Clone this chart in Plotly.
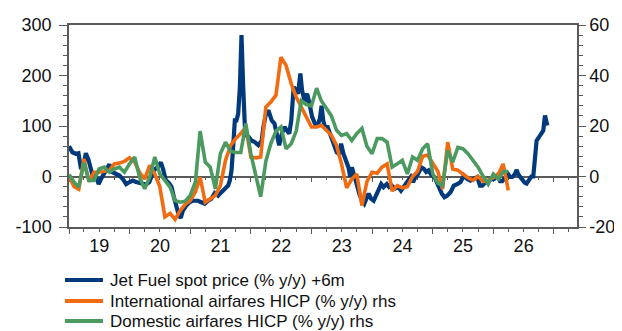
import datetime as dt
import pandas as pd
import plotly.graph_objects as go

# ---------------- data ----------------
# Jet fuel spot price (% y/y), shifted +6m, left axis (decimal-year dates)
jet_t = [2019.000, 2019.056, 2019.111, 2019.156, 2019.194, 2019.233, 2019.278, 2019.322, 2019.361, 2019.400,
         2019.444, 2019.489, 2019.528, 2019.583, 2019.639, 2019.667, 2019.711, 2019.778, 2019.833, 2019.889,
         2019.944, 2020.000, 2020.054, 2020.108, 2020.162, 2020.216, 2020.270, 2020.324, 2020.368, 2020.405,
         2020.459, 2020.514, 2020.551, 2020.595, 2020.649, 2020.692, 2020.730, 2020.773, 2020.811, 2020.843,
         2020.876, 2020.930, 2020.984, 2021.038, 2021.072, 2021.127, 2021.182, 2021.238, 2021.293, 2021.348,
         2021.403, 2021.459, 2021.514, 2021.569, 2021.624, 2021.652, 2021.680, 2021.707, 2021.735, 2021.762,
         2021.790, 2021.818, 2021.845, 2021.873, 2021.901, 2021.928, 2021.967, 2022.011, 2022.067, 2022.122,
         2022.178, 2022.206, 2022.244, 2022.289, 2022.344, 2022.389, 2022.428, 2022.467, 2022.511, 2022.556,
         2022.594, 2022.633, 2022.667, 2022.706, 2022.744, 2022.778, 2022.817, 2022.844, 2022.889, 2022.928,
         2022.967, 2023.011, 2023.056, 2023.094, 2023.139, 2023.167, 2023.194, 2023.222, 2023.267, 2023.306,
         2023.361, 2023.417, 2023.456, 2023.489, 2023.528, 2023.567, 2023.611, 2023.639, 2023.667, 2023.711,
         2023.750, 2023.789, 2023.833, 2023.872, 2023.906, 2023.944, 2023.983, 2024.027, 2024.065, 2024.108,
         2024.151, 2024.189, 2024.243, 2024.281, 2024.324, 2024.378, 2024.432, 2024.476, 2024.514, 2024.551,
         2024.595, 2024.638, 2024.676, 2024.714, 2024.757, 2024.811, 2024.854, 2024.892, 2024.930, 2024.973,
         2025.028, 2025.072, 2025.110, 2025.149, 2025.193, 2025.238, 2025.293, 2025.348, 2025.403, 2025.459,
         2025.514, 2025.569, 2025.624, 2025.680, 2025.735, 2025.779, 2025.818, 2025.856, 2025.901, 2025.956,
         2026.011, 2026.066, 2026.110, 2026.148, 2026.203, 2026.242, 2026.275, 2026.313, 2026.352, 2026.385,
         2026.407, 2026.440, 2026.478, 2026.516, 2026.549, 2026.588, 2026.626, 2026.659, 2026.681, 2026.714,
         2026.753, 2026.791, 2026.824, 2026.852, 2026.868, 2026.890]
jet_v = [60, 48, 45, 46, 18, 18, 46, 33, 15, -3,
         1, -15, -5, 5, 18, 24, 9, 5, 2, -5,
         -15, -11, -8, -11, -12, -13, -16, -11, 2, 13,
         18, 28, 15, -7, -13, -21, -41, -61, -77, -82,
         -68, -58, -51, -48, -48, -48, -51, -54, -48, -44,
         -33, -38, -31, -24, -18, -8, 12, 58, 111, 111,
         124, 177, 280, 177, 98, 81, 78, 71, 68, 62,
         71, 98, 121, 131, 111, 105, 81, 62, 85, 98,
         91, 85, 111, 177, 171, 164, 204, 171, 148, 164,
         144, 118, 105, 98, 115, 140, 111, 98, 98, 85,
         65, 48, 45, 65, 45, 32, 18, 0, 18, 0,
         -21, -34, -48, -54, -44, -34, -44, -48, -38, -24,
         -15, -21, -15, -21, -18, -24, -21, -28, -21, -15,
         -8, -1, -11, -1, 5, 18, 15, 9, 12, 4,
         -1, -15, -24, -34, -41, -38, -31, -18, -15, -11,
         2, -5, -8, -5, -1, -18, -18, -13, -10, -6,
         -5, 2, -9, -9, -1, 5, -1, -1, 4, 13,
         5, -1, -6, -12, -14, -6, 0, 0, 32, 71,
         78, 85, 91, 121, 110, 101]

# Monthly HICP series (% y/y), right axis, Jan 2019 onwards
months = pd.date_range("2019-01-01", periods=88, freq="MS")
intl_air = [0, -4, -5, 7, -2, 1.7, 1.7, 2, 2.4, 5, 5.3, 6,
            7.4, 5.7, 1.7, -1, 4.4, 1, -4, -16, -14.6, -17, -13.5, -11,
            -9.5, -6, -0.3, -10.2, -8.9, -7.5, -3.6, 6.4, 12.3, 15, 17, 19.6,
            7.7, 7.4, 7.7, 27.5, 29.5, 32.2, 47.2, 44, 36.8, 31.5, 27.5, 23.6,
            19.6, 19.6, 20.3, 18.3, 16.3, 12.3, 5, -4.5, -1, 1, -11.5, -2,
            1.7, 1.3, 3.7, 5, -5.8, -3.6, -4.5, -4, 0, 2, 8, 8.5,
            5.5, 2, -5, 13.6, 3, 2.5, 1, -0.5, -1.5, 0, -2, -1.5,
            -0.5, 1, 5, -5.5]
dom_air = [0.8, -2.3, -4.2, 5.5, -1.6, -1.6, 3, 3.7, 1.7, 3, 3.7, 1.7,
           5, 7.7, -0.3, -4.9, -0.3, 7.7, 1, -1.6, -4.2, -9.5, -10.2, -9.8,
           -7.5, -2, 18, 5.7, 3.7, -4.9, 9, 13.6, 10, 9.5, 9.5, 21,
           9, 0, -8, 6, 13, 18, 19.6, 11, 13, 18, 30, 28.5,
           28, 35, 30, 27, 24, 18.3, 16.3, 17, 14.3, 17, 19, 12,
           9, 15, 15, 13.6, 3.7, 5, 6.4, 1, 7.7, 6.4, 11, 13,
           1, -2.6, -3.6, 10.3, 5.7, 11.5, 11, 9, 6.4, 3.7, 0, -3,
           1, -1, 2, 2]

left_ticks = [-100, 0, 100, 200, 300]
left_labels = ["-100", "0", "100", "200", "300"]
right_ticks = [-20, 0, 20, 40, 60]
right_labels = ["-20", "0", "20", "40", "60"]

names = ["Jet Fuel spot price (% y/y) +6m",
         "International airfares HICP (% y/y) rhs",
         "Domestic airfares HICP (% y/y) rhs"]


def dec_to_date(t):
    y = int(t)
    start = dt.datetime(y, 1, 1)
    end = dt.datetime(y + 1, 1, 1)
    return start + (end - start) * (t - y)


jet_dates = [dec_to_date(t) for t in jet_t]

# ---------------- styling ----------------
BLUE = "#003a7c"
ORANGE = "#f26b10"
GREEN = "#4c9a60"
COLORS = [BLUE, ORANGE, GREEN]
AXC = "#5a5a5a"
FONT = "Liberation Sans, Arial, sans-serif"
OFF = 8  # page body margin of the html output
W, H = 622 - OFF, 331 - OFF
ML, MR, MT, MB = 69 - OFF, 45, 25 - OFF, 104

fig = go.Figure()
fig.add_trace(go.Scatter(x=jet_dates, y=jet_v, name=names[0], mode="lines",
                         line=dict(color=BLUE, width=4.2), yaxis="y"))
fig.add_trace(go.Scatter(x=months, y=intl_air, name=names[1], mode="lines",
                         line=dict(color=ORANGE, width=3.6), yaxis="y2"))
fig.add_trace(go.Scatter(x=months, y=dom_air, name=names[2], mode="lines",
                         line=dict(color=GREEN, width=3.6), yaxis="y2"))
# helper trace so the zero-crossing axis is drawn
fig.add_trace(go.Scatter(x=[months[0]], y=[0], xaxis="x2", yaxis="y",
                         mode="markers", marker=dict(opacity=0), showlegend=False,
                         hoverinfo="skip"))

xrange = ["2019-01-01", "2027-05-20"]

common_x = dict(type="date", range=xrange, tick0="2019-01-01", dtick="M12",
                ticks="outside", ticklen=5, tickwidth=1.3, tickcolor=AXC,
                showline=True, linecolor=AXC, linewidth=1.5,
                showgrid=False, zeroline=False, automargin=False,
                minor=dict(dtick="M3", ticks="outside", ticklen=3, tickcolor=AXC,
                           tickwidth=1.3, showgrid=False))

# manual legend (lines + text) below the chart; rows given in page pixels
plot_w = W - ML - MR
plot_h = H - MT - MB
leg_rows_px = [280, 301, 321]
shapes, annotations = [], []
for name, col, ypx in zip(names, COLORS, leg_rows_px):
    yp = (H - MB - (ypx - OFF)) / plot_h
    shapes.append(dict(type="line", xref="paper", yref="paper",
                       x0=(65 - 69) / plot_w, x1=(103 - 69) / plot_w, y0=yp, y1=yp,
                       line=dict(color=col, width=4)))
    annotations.append(dict(xref="paper", yref="paper", x=(108 - 69) / plot_w, y=yp,
                            xanchor="left", yanchor="middle", showarrow=False,
                            text=name, font=dict(size=17, family=FONT, color="#111")))

fig.update_layout(
    width=W, height=H,
    margin=dict(l=ML, r=MR, t=MT, b=MB),
    paper_bgcolor="white", plot_bgcolor="white",
    font=dict(family=FONT, size=18, color="#111"),
    showlegend=False,
    xaxis=dict(**common_x, mirror=True, ticklabelmode="period", tickformat="%y",
               tickfont=dict(size=18), ticklabelstandoff=-3, layer="below traces"),
    xaxis2=dict(**common_x, overlaying="x", anchor="free", position=0.25,
                showticklabels=False, layer="below traces"),
    yaxis=dict(range=[-100, 300], tickmode="array", tickvals=left_ticks, ticktext=left_labels,
               ticks="outside", ticklen=8, tickwidth=1.3,
               tickcolor=AXC, showline=True, linecolor=AXC, linewidth=1.5,
               showgrid=False, zeroline=False, tickfont=dict(size=18),
               ticklabelstandoff=4, automargin=False,
               minor=dict(tick0=0, dtick=20, ticks="outside", ticklen=4, tickcolor=AXC,
                          tickwidth=1.3, showgrid=False)),
    yaxis2=dict(range=[-20, 60], tickmode="array", tickvals=right_ticks, ticktext=right_labels,
                overlaying="y", side="right",
                ticks="outside", ticklen=7, tickwidth=1.3, tickcolor=AXC,
                showline=True, linecolor=AXC, linewidth=1.5,
                showgrid=False, zeroline=False, tickfont=dict(size=18),
                ticklabelstandoff=0, automargin=False,
                minor=dict(tick0=0, dtick=4, ticks="outside", ticklen=4, tickcolor=AXC,
                           tickwidth=1.3, showgrid=False)),
    shapes=shapes,
    annotations=annotations,
)

fig.write_html("out.html")
